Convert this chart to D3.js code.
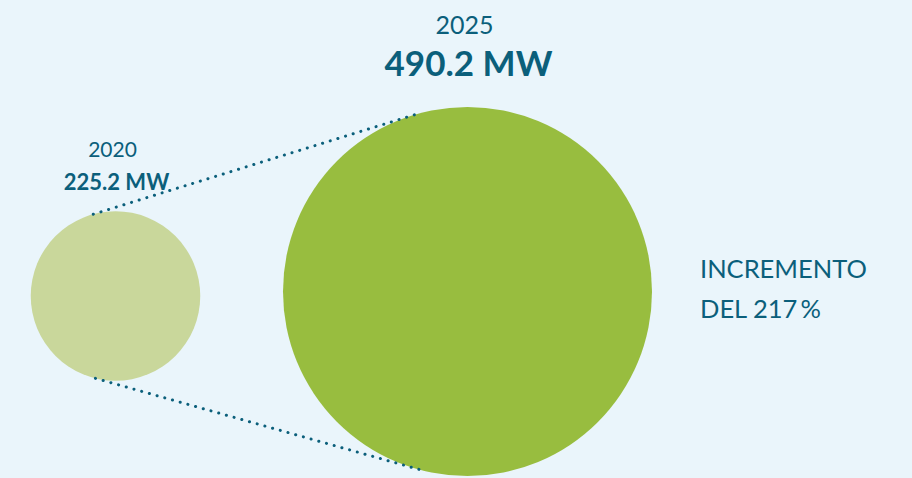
<!DOCTYPE html>
<html>
<head>
<meta charset="utf-8">
<script src="https://cdn.jsdelivr.net/npm/d3@7"></script>
<style>
  html, body { margin: 0; padding: 0; background: #eaf5fb; }
  svg { display: block; font-family: Lato, "Noto Sans", sans-serif; }
</style>
</head>
<body>
<svg id="chart" width="912" height="478"></svg>
<script>
var years = ["2020", "2025"];
var values = [225.2, 490.2];
var valueLabels = ["225.2 MW", "490.2 MW"];
var growthLines = ["INCREMENTO", "DEL 217\u2009%"];

var svg = d3.select("#chart"),
    width = 912,
    height = 478;

var textColor = "#0b5f7b";
var fills = ["#c9d79b", "#98bd3f"];
var centersY = [296, 291.5];

// radius grows linearly with the value
var r = d3.scaleLinear()
    .domain([0, d3.max(values)])
    .range([0, 184.5]);

var x = d3.scaleOrdinal()
    .domain(years)
    .range([115.5, 467.5]);

var data = years.map(function(d, i) {
  return { year: d, value: values[i], label: valueLabels[i], fill: fills[i], cy: centersY[i] };
});

svg.append("rect")
    .attr("width", width)
    .attr("height", height)
    .attr("fill", "#eaf5fb");

// circles
svg.append("g")
  .selectAll("circle")
  .data(data)
  .enter().append("circle")
    .attr("cx", function(d) { return x(d.year); })
    .attr("cy", function(d) { return d.cy; })
    .attr("r", function(d) { return r(d.value); })
    .attr("fill", function(d) { return d.fill; });

// dotted connectors between the two circles
var small = data[0], big = data[1];
function pointOn(d, angleDeg) {
  var a = angleDeg * Math.PI / 180;
  return [x(d.year) + r(d.value) * Math.cos(a), d.cy + r(d.value) * Math.sin(a)];
}
var connectors = [
  [pointOn(small, -105.2), pointOn(big, -106.6)],
  [pointOn(small, 103.7), pointOn(big, 104.1)]
];

svg.append("g")
  .selectAll("line")
  .data(connectors)
  .enter().append("line")
    .attr("x1", function(d) { return d[0][0]; })
    .attr("y1", function(d) { return d[0][1]; })
    .attr("x2", function(d) { return d[1][0]; })
    .attr("y2", function(d) { return d[1][1]; })
    .attr("stroke", textColor)
    .attr("stroke-width", 3)
    .attr("stroke-linecap", "round")
    .attr("stroke-dasharray", "0.1 7.9");

// year labels and values
var labelSizes = [
  { year: 21, value: 22, yYear: 157, yValue: 190 },
  { year: 25, value: 35, yYear: 34, yValue: 76 }
];

var labels = svg.append("g")
  .selectAll("g")
  .data(data)
  .enter().append("g")
    .attr("text-anchor", "middle")
    .attr("fill", textColor);

labels.append("text")
    .attr("x", function(d) { return x(d.year) - 3; })
    .attr("y", function(d, i) { return labelSizes[i].yYear; })
    .attr("font-size", function(d, i) { return labelSizes[i].year + "px"; })
    .text(function(d) { return d.year; });

labels.append("text")
    .attr("x", function(d) { return x(d.year) + 1; })
    .attr("y", function(d, i) { return labelSizes[i].yValue; })
    .attr("font-size", function(d, i) { return labelSizes[i].value + "px"; })
    .attr("font-weight", "bold")
    .text(function(d) { return d.label; });

// growth annotation
svg.append("g")
  .selectAll("text")
  .data(growthLines)
  .enter().append("text")
    .attr("x", 700)
    .attr("y", function(d, i) { return 278 + i * 40; })
    .attr("fill", textColor)
    .attr("font-size", "25.5px")
    .text(function(d) { return d; });
</script>
</body>
</html>
